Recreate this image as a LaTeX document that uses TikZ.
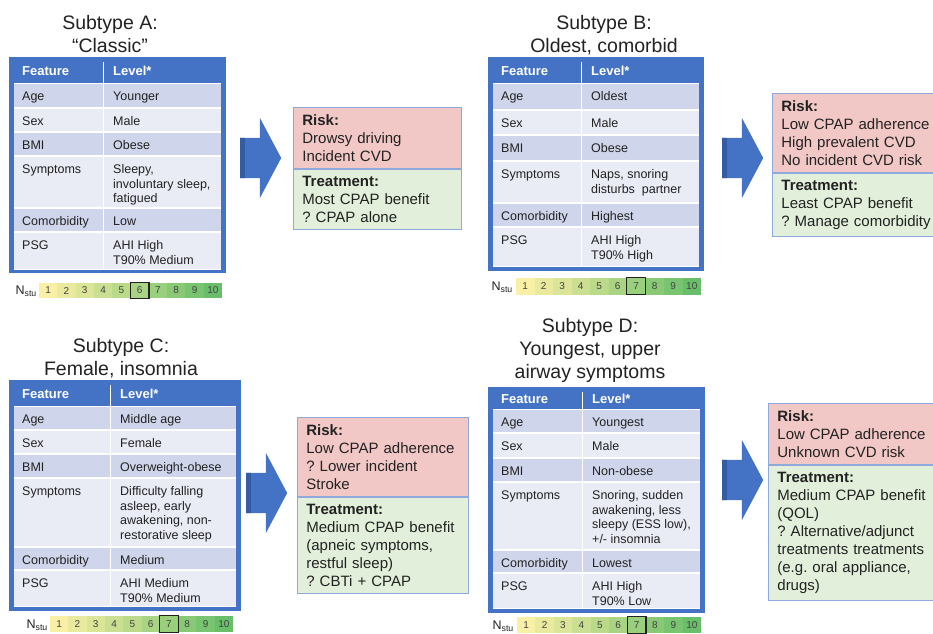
\documentclass[tikz,border=0pt]{standalone}
\usepackage{fontspec}
\setmainfont{Liberation Sans}
\usetikzlibrary{positioning,shapes.arrows}
\frenchspacing

\definecolor{tblue}{RGB}{68,114,196}
\definecolor{arrowdark}{RGB}{52,92,165}
\definecolor{rowdark}{RGB}{207,213,234}
\definecolor{rowlight}{RGB}{233,235,245}
\definecolor{riskred}{RGB}{242,200,198}
\definecolor{treatgreen}{RGB}{226,239,218}
\definecolor{boxline}{RGB}{142,169,219}
\definecolor{txt}{RGB}{34,34,34}
\definecolor{scalelo}{RGB}{250,240,165}
\definecolor{scalehi}{RGB}{105,190,105}

\begin{document}
\begin{tikzpicture}[x=1pt, y=-1pt,
            typetitle/.style={align=center, anchor=north, text=txt, font=\fontsize{19.5}{23}\selectfont},
            tblframe/.style={fill=tblue},
            headtxt/.style={anchor=west, inner sep=0pt, text=white, font=\fontsize{13}{15}\selectfont\bfseries},
            celltxt/.style={anchor=north west, align=left, inner sep=0pt, text=txt, font=\fontsize{12.5}{14.5}\selectfont},
            divider/.style={white, line width=1pt},
            scalecell/.style={inner sep=0pt, minimum height=15pt, text=txt!85, font=\fontsize{10}{12}\selectfont},
            scalelabel/.style={anchor=east, inner sep=0pt, text=txt, font=\fontsize{12.5}{14}\selectfont},
            selbox/.style={draw=txt, line width=1.2pt},
            blockarrow/.style={single arrow, anchor=tail, fill=tblue, minimum height=41pt,
                inner xsep=0pt, inner ysep=20pt, single arrow head extend=20pt, single arrow tip angle=124,
                path picture={\fill[arrowdark] (path picture bounding box.south west) rectangle ([xshift=5pt]path picture bounding box.north west);}},
            risk/.style={anchor=north west, fill=riskred, draw=boxline, line width=0.8pt, align=left,
                inner xsep=9pt, inner ysep=7pt, text=txt, font=\fontsize{15}{18}\selectfont},
            treat/.style={risk, fill=treatgreen}]

            \useasboundingbox (0,0) rectangle (933,633);

            % Subtype A
            \node[typetitle] (titleA) at (110,12) {Subtype A:\\“Classic”};
            \fill[tblframe] (9,57) rectangle (226,273);
            \fill[white] (14,83) rectangle (221,270);
            \node[headtxt] (A-h1) at (22,71) {Feature};
            \node[headtxt] (A-h2) at (113,71) {Level*};
            \foreach \yt/\yb/\feat/\lev [count=\i] in {83/108/Age/Younger, 108/132/Sex/Male, 132/156/BMI/Obese,
                156/208/Symptoms/{Sleepy,\\involuntary sleep,\\fatigued}, 208/232/Comorbidity/Low,
                232/270/PSG/{AHI High\\T90\% Medium}}{
                \ifodd\i\def\rowcol{rowdark}\else\def\rowcol{rowlight}\fi
                \fill[\rowcol] (14,\yt+0.8) rectangle (221,\yb-0.8);
                \node[celltxt] (A-f\i) at (22,\yt+8.5) {\feat};
                \node[celltxt] (A-l\i) at (113,\yt+8.5) {\lev};
            }
            \draw[divider] (103,62) -- (103,270);
            \node[scalelabel] (A-n) at (37,291) {N\textsubscript{stu}};
            \foreach \n in {1,...,10}{
                \pgfmathsetmacro\mix{(\n-1)*100/9}
                \node[scalecell, minimum width=18.3pt, fill=scalehi!\mix!scalelo] (A-s\n) at ({39+(\n-0.5)*18.3},290.5) {\n};
            }
            \draw[selbox] (A-s6.north west) rectangle (A-s6.south east);
            \node[blockarrow] (arrA) at (240,158) {};
            \node[risk, text width=150pt] (riskA) at (293,107) {\textbf{Risk:}\\Drowsy driving\\Incident CVD};
            \node[treat, text width=150pt] (treatA) at (riskA.south west) {\textbf{Treatment:}\\Most CPAP benefit\\? CPAP alone};

            % Subtype B
            \node[typetitle] (titleB) at (604,12) {Subtype B:\\Oldest, comorbid};
            \fill[tblframe] (488,57) rectangle (704,271);
            \fill[white] (493,83) rectangle (699,267);
            \node[headtxt] (B-h1) at (501,71) {Feature};
            \node[headtxt] (B-h2) at (591,71) {Level*};
            \foreach \yt/\yb/\feat/\lev [count=\i] in {83/110/Age/Oldest, 110/135/Sex/Male, 135/161/BMI/Obese,
                161/203/Symptoms/{Naps, snoring\\disturbs\ \ partner}, 203/227/Comorbidity/Highest,
                227/267/PSG/{AHI High\\T90\% High}}{
                \ifodd\i\def\rowcol{rowdark}\else\def\rowcol{rowlight}\fi
                \fill[\rowcol] (493,\yt+0.8) rectangle (699,\yb-0.8);
                \node[celltxt] (B-f\i) at (501,\yt+8.5) {\feat};
                \node[celltxt] (B-l\i) at (591,\yt+8.5) {\lev};
            }
            \draw[divider] (581,62) -- (581,267);
            \node[scalelabel] (B-n) at (513,287) {N\textsubscript{stu}};
            \foreach \n in {1,...,10}{
                \pgfmathsetmacro\mix{(\n-1)*100/9}
                \node[scalecell, minimum width=18.5pt, minimum height=17pt, fill=scalehi!\mix!scalelo] (B-s\n) at ({516+(\n-0.5)*18.5},286) {\n};
            }
            \draw[selbox] (B-s7.north west) rectangle (B-s7.south east);
            \node[blockarrow] (arrB) at (722,158) {};
            \node[risk, text width=160pt] (riskB) at (772,93) {\textbf{Risk:}\\Low CPAP adherence\\High prevalent CVD\\No incident CVD risk};
            \node[treat, text width=160pt] (treatB) at (riskB.south west) {\textbf{Treatment:}\\Least CPAP benefit\\? Manage comorbidity};

            % Subtype C
            \node[typetitle] (titleC) at (121,335) {Subtype C:\\Female, insomnia};
            \fill[tblframe] (9,380) rectangle (241,611);
            \fill[white] (14,406) rectangle (236,607);
            \node[headtxt] (C-h1) at (22,394) {Feature};
            \node[headtxt] (C-h2) at (120,394) {Level*};
            \foreach \yt/\yb/\feat/\lev [count=\i] in {406/430/Age/Middle age, 430/454/Sex/Female, 454/478/BMI/Overweight-obese,
                478/547/Symptoms/{Difficulty falling\\asleep, early\\awakening, non-\\restorative sleep}, 547/570/Comorbidity/Medium,
                570/607/PSG/{AHI Medium\\T90\% Medium}}{
                \ifodd\i\def\rowcol{rowdark}\else\def\rowcol{rowlight}\fi
                \fill[\rowcol] (14,\yt+0.8) rectangle (236,\yb-0.8);
                \node[celltxt] (C-f\i) at (22,\yt+8.5) {\feat};
                \node[celltxt] (C-l\i) at (120,\yt+8.5) {\lev};
            }
            \draw[divider] (110,385) -- (110,607);
            \node[scalelabel] (C-n) at (48,625) {N\textsubscript{stu}};
            \foreach \n in {1,...,10}{
                \pgfmathsetmacro\mix{(\n-1)*100/9}
                \node[scalecell, minimum width=18.3pt, minimum height=16pt, fill=scalehi!\mix!scalelo] (C-s\n) at ({50+(\n-0.5)*18.3},624) {\n};
            }
            \draw[selbox] (C-s7.north west) rectangle (C-s7.south east);
            \node[blockarrow] (arrC) at (246,493) {};
            \node[risk, text width=153pt] (riskC) at (297,417) {\textbf{Risk:}\\Low CPAP adherence\\? Lower incident\\Stroke};
            \node[treat, text width=153pt] (treatC) at (riskC.south west) {\textbf{Treatment:}\\Medium CPAP benefit\\(apneic symptoms,\\restful sleep)\\? CBTi + CPAP};

            % Subtype D
            \node[typetitle] (titleD) at (590,315) {Subtype D:\\Youngest, upper\\airway symptoms};
            \fill[tblframe] (488,387) rectangle (705,613);
            \fill[white] (493,409) rectangle (700,609);
            \node[headtxt] (D-h1) at (501,399) {Feature};
            \node[headtxt] (D-h2) at (592,399) {Level*};
            \foreach \yt/\yb/\feat/\lev [count=\i] in {409/433/Age/Youngest, 433/458/Sex/Male, 458/482/BMI/Non-obese,
                482/550/Symptoms/{Snoring, sudden\\awakening, less\\sleepy (ESS low),\\+/- insomnia}, 550/573/Comorbidity/Lowest,
                573/609/PSG/{AHI High\\T90\% Low}}{
                \ifodd\i\def\rowcol{rowdark}\else\def\rowcol{rowlight}\fi
                \fill[\rowcol] (493,\yt+0.8) rectangle (700,\yb-0.8);
                \node[celltxt] (D-f\i) at (501,\yt+8.5) {\feat};
                \node[celltxt] (D-l\i) at (592,\yt+8.5) {\lev};
            }
            \draw[divider] (582,392) -- (582,609);
            \node[scalelabel] (D-n) at (514,626) {N\textsubscript{stu}};
            \foreach \n in {1,...,10}{
                \pgfmathsetmacro\mix{(\n-1)*100/9}
                \node[scalecell, minimum width=18.4pt, minimum height=16pt, fill=scalehi!\mix!scalelo] (D-s\n) at ({517+(\n-0.5)*18.4},625) {\n};
            }
            \draw[selbox] (D-s7.north west) rectangle (D-s7.south east);
            \node[blockarrow] (arrD) at (722,480) {};
            \node[risk, text width=160pt] (riskD) at (768,403) {\textbf{Risk:}\\Low CPAP adherence\\Unknown CVD risk};
            \node[treat, text width=160pt] (treatD) at (riskD.south west) {\textbf{Treatment:}\\Medium CPAP benefit\\(QOL)\\? Alternative/adjunct\\treatments treatments\\(e.g. oral appliance,\\drugs)};
\end{tikzpicture}
\end{document}
